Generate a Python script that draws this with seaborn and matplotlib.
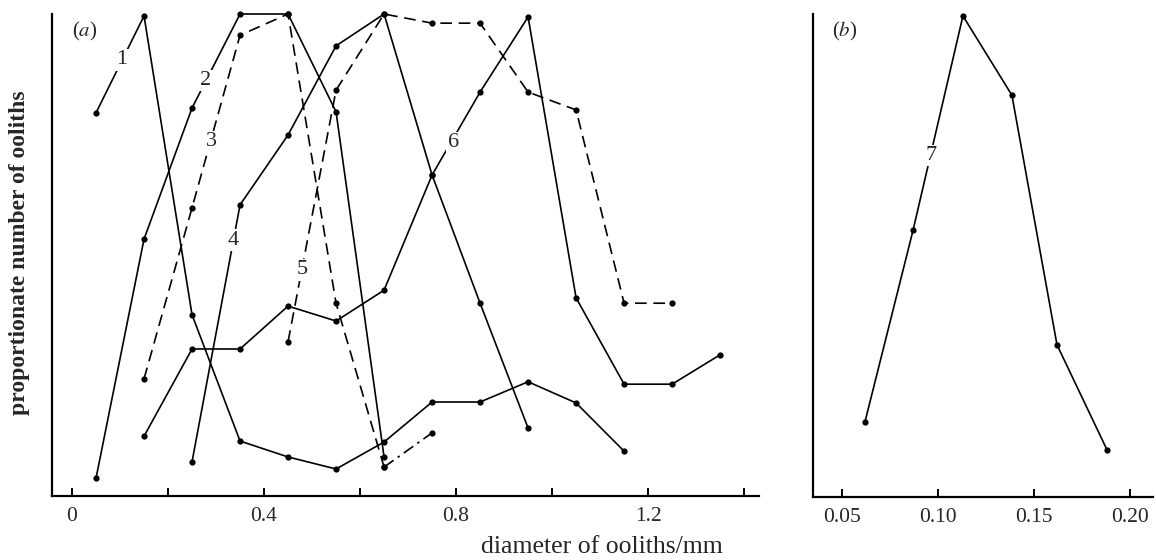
import numpy as np
import pandas as pd
import matplotlib
matplotlib.use("Agg")
import matplotlib.pyplot as plt
import seaborn as sns

# ---------------- data ----------------
# panel (a): diameter (mm, bin centres) and proportionate number
c1_x = [0.05, 0.15, 0.25, 0.35, 0.45, 0.55, 0.65, 0.75, 0.85, 0.95, 1.05, 1.15]
c1_y = [0.795, 0.996, 0.376, 0.114, 0.081, 0.056, 0.112, 0.195, 0.195, 0.237, 0.193, 0.093]

c2_x = [0.05, 0.15, 0.25, 0.35, 0.45, 0.55, 0.65]
c2_y = [0.037, 0.533, 0.805, 1.0, 1.0, 0.797, 0.081]

c3_x = [0.15, 0.25, 0.35, 0.45, 0.55, 0.65, 0.75]
c3_y = [0.243, 0.598, 0.956, 1.0, 0.400, 0.060, 0.131]

c4_x = [0.25, 0.35, 0.45, 0.55, 0.65, 0.75, 0.85, 0.95]
c4_y = [0.071, 0.604, 0.749, 0.934, 1.0, 0.666, 0.400, 0.141]

c5_x = [0.45, 0.55, 0.65, 0.75, 0.85, 0.95, 1.05, 1.15, 1.25]
c5_y = [0.320, 0.842, 1.0, 0.981, 0.981, 0.838, 0.801, 0.400, 0.400]

c6_x = [0.15, 0.25, 0.35, 0.45, 0.55, 0.65, 0.75, 0.85, 0.95, 1.05, 1.15, 1.25, 1.35]
c6_y = [0.124, 0.305, 0.305, 0.394, 0.363, 0.427, 0.666, 0.838, 0.994, 0.411, 0.232, 0.232, 0.293]

# panel (b)
c7_x = [0.062, 0.087, 0.113, 0.1385, 0.162, 0.188]
c7_y = [0.156, 0.552, 0.996, 0.832, 0.315, 0.098]

ticks_a = [0, 0.2, 0.4, 0.6, 0.8, 1.0, 1.2, 1.4]
ticklabels_a = ["0", "", "0.4", "", "0.8", "", "1.2", ""]
ticks_b = [0.05, 0.10, 0.15, 0.20]
ticklabels_b = ["0.05", "0.10", "0.15", "0.20"]

curve_labels = ["1", "2", "3", "4", "5", "6", "7"]

# ---------------- style ----------------
sns.set_theme(style="white")
plt.rcParams["font.family"] = ["Liberation Serif", "DejaVu Serif"]
plt.rcParams["mathtext.fontset"] = "stix"

W, H = 1156, 560
fig = plt.figure(figsize=(W / 100, H / 100), dpi=100)
fig.patch.set_facecolor("white")

def ax_rect(l, r, t, b):
    return [l / W, 1 - b / H, (r - l) / W, (b - t) / H]

ax_a = fig.add_axes(ax_rect(52, 759, 14, 496))
ax_b = fig.add_axes(ax_rect(813, 1153, 14, 497))

LW = 1.2
MS = 4.5
DASH = (0, (7, 4))
DASHDOT = (0, (7, 3, 1.5, 3))

def draw(ax, x, y, ls="-", marker="o"):
    df = pd.DataFrame({"x": x, "y": y})
    sns.lineplot(data=df, x="x", y="y", ax=ax, color="black", lw=LW,
                 linestyle=ls, marker=marker, markersize=MS,
                 markeredgewidth=0, errorbar=None, sort=False,
                 clip_on=False, zorder=3)

# curve 1 (solid)
draw(ax_a, c1_x, c1_y)
# curve 2 (solid)
draw(ax_a, c2_x, c2_y)
# curve 3 (dashed, last segment dash-dot)
draw(ax_a, c3_x[:6], c3_y[:6], ls=DASH)
draw(ax_a, c3_x[5:], c3_y[5:], ls=DASHDOT)
# curve 4 (solid)
draw(ax_a, c4_x, c4_y)
# curve 5 (dashed)
draw(ax_a, c5_x, c5_y, ls=DASH)
# curve 6 (solid)
draw(ax_a, c6_x, c6_y)
# curve 7 (solid, panel b)
draw(ax_b, c7_x, c7_y)

lab_kw = dict(fontsize=16, ha="center", va="center", zorder=6,
              bbox=dict(facecolor="white", edgecolor="none", pad=1.0))
# label positions in data coordinates (placed on their curves)
ax_a.text(0.104, 0.905, curve_labels[0], **lab_kw)
ax_a.text(0.279, 0.862, curve_labels[1], **lab_kw)
ax_a.text(0.290, 0.735, curve_labels[2], **lab_kw)
ax_a.text(0.335, 0.531, curve_labels[3], **lab_kw)
ax_a.text(0.479, 0.469, curve_labels[4], **lab_kw)
ax_a.text(0.794, 0.733, curve_labels[5], **lab_kw)
ax_b.text(0.0965, 0.707, curve_labels[6], **lab_kw)

for ax in (ax_a, ax_b):
    ax.set_ylim(0, 1.0)
    ax.set_yticks([])
    ax.set_xlabel("")
    ax.set_ylabel("")
    ax.set_facecolor("white")
    for s in ("top", "right"):
        ax.spines[s].set_visible(False)
    for s in ("left", "bottom"):
        ax.spines[s].set_visible(True)
        ax.spines[s].set_color("black")
        ax.spines[s].set_linewidth(1.6)
    ax.tick_params(axis="x", direction="in", length=5.5, width=1.4,
                   color="black", labelsize=15.5, pad=8, bottom=True)
    ax.grid(False)

ax_a.set_xlim(-0.0417, 1.431)
ax_a.set_xticks(ticks_a)
ax_a.set_xticklabels(ticklabels_a)

ax_b.set_xlim(0.0349, 0.212)
ax_b.set_xticks(ticks_b)
ax_b.set_xticklabels(ticklabels_b)

ax_a.text(72 / W, 1 - 31 / H, r"($a$)", transform=fig.transFigure,
          fontsize=15, ha="left", va="center")
ax_b.text(832 / W, 1 - 31 / H, r"($b$)", transform=fig.transFigure,
          fontsize=15, ha="left", va="center")

fig.text(602 / W, 1 - 553 / H, "diameter of ooliths/mm", fontsize=18.5,
         ha="center", va="baseline")
fig.text(20 / W, 1 - 253 / H, "proportionate number of ooliths", fontsize=17,
         rotation=90, ha="center", va="center", fontweight="bold")

fig.savefig("out.png", dpi=100, facecolor="white")
